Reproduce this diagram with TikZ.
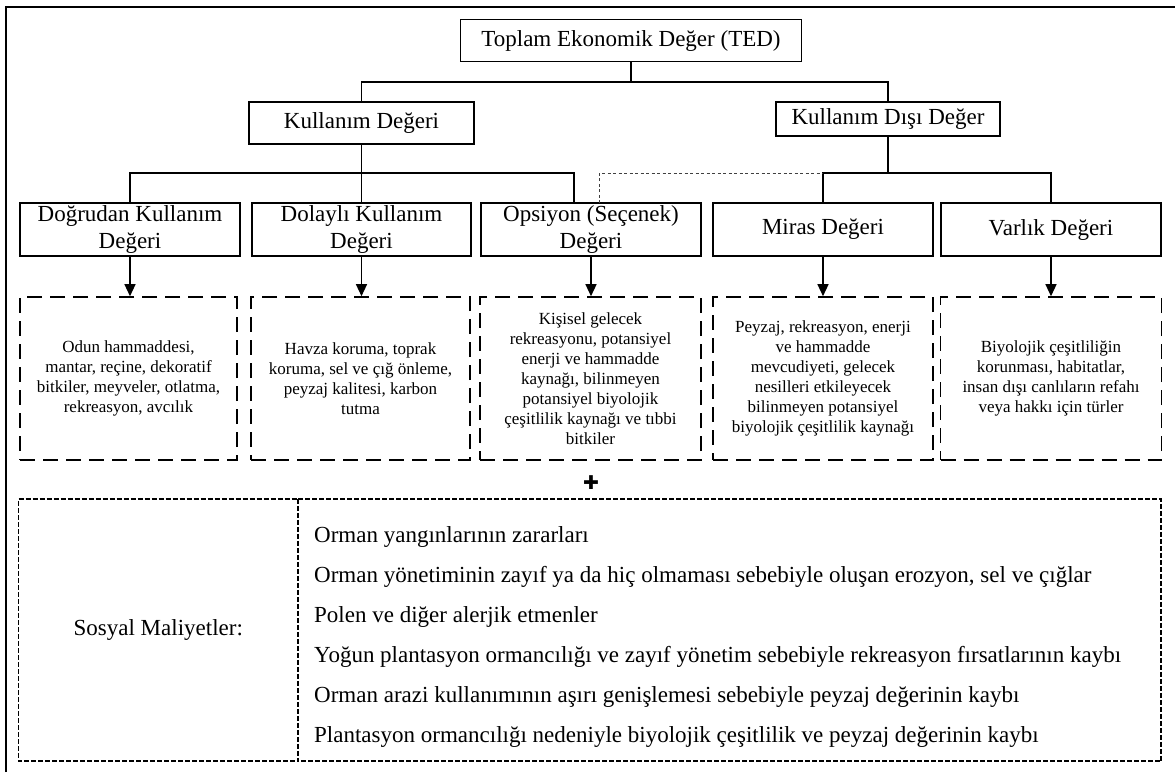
\documentclass[tikz,border=0pt]{standalone}
\usepackage{fontspec}
\setmainfont{Liberation Serif}
\newfontfamily\djv{DejaVu Sans}
\usetikzlibrary{arrows.meta}
\begin{document}
\begin{tikzpicture}[x=1pt,y=-1pt,
  box/.style={draw, line width=1.6pt, inner sep=0pt, align=center, font=\fontsize{23}{27}\selectfont},
  rowbox/.style={box, minimum width=220pt, minimum height=53pt},
  dbox/.style={draw, line width=1.6pt, dash pattern=on 15pt off 8pt, inner sep=0pt, minimum height=163pt, minimum width=219pt, align=center, font=\fontsize{17}{20}\selectfont},
  sdash/.style={line width=1.5pt, dash pattern=on 5pt off 2pt},
  sbox/.style={inner sep=0pt, minimum height=262pt, font=\fontsize{23}{27}\selectfont},
  item/.style={anchor=west, inner sep=0pt, font=\fontsize{23}{27}\selectfont},
  conn/.style={line width=1.3pt},
  dconn/.style={line width=1pt, dash pattern=on 3pt off 2.5pt, black!75},
  arr/.style={line width=1.3pt, -{Triangle[length=12pt,width=11pt]}},
  ]
\useasboundingbox (0,0) rectangle (1175,772);
% frame
\draw[line width=1.1pt] (6,772) -- (6,7) -- (1175,7);
% top levels
\node[box, minimum width=341pt, minimum height=42pt] (ted) at (631,40.5) {Toplam Ekonomik Değer (TED)};
\node[box, minimum width=225pt, minimum height=42pt] (ku) at (361.5,123) {Kullanım Değeri};
\node[box, minimum width=224pt, minimum height=34pt] (kd) at (888,119) {Kullanım Dışı Değer};
% row 3
\node[rowbox] (dk) at (130,229.5) {Doğrudan Kullanım\\Değeri};
\node[rowbox, minimum width=219pt] (dl) at (361.5,229.5) {Dolaylı Kullanım\\Değeri};
\node[rowbox] (op) at (591,229.5) {Opsiyon (Seçenek)\\Değeri};
\node[rowbox] (mi) at (823,229.5) {Miras Değeri};
\node[rowbox] (va) at (1051,229.5) {Varlık Değeri};
% row 4
\node[dbox, minimum width=217pt] (d1) at (128.5,378.5) {Odun hammaddesi,\\mantar, reçine, dekoratif\\bitkiler, meyveler, otlatma,\\rekreasyon, avcılık};
\node[dbox] (d2) at (360.5,378.5) {Havza koruma, toprak\\koruma, sel ve çığ önleme,\\peyzaj kalitesi, karbon\\tutma};
\node[dbox, minimum width=221pt] (d3) at (590.5,378.5) {Kişisel gelecek\\rekreasyonu, potansiyel\\enerji ve hammadde\\kaynağı, bilinmeyen\\potansiyel biyolojik\\çeşitlilik kaynağı ve tıbbi\\bitkiler};
\node[dbox, minimum width=220pt] (d4) at (823,378.5) {Peyzaj, rekreasyon, enerji\\ve hammadde\\mevcudiyeti, gelecek\\nesilleri etkileyecek\\bilinmeyen potansiyel\\biyolojik çeşitlilik kaynağı};
\node[dbox, minimum width=221pt] (d5) at (1051,378.5) {Biyolojik çeşitliliğin\\korunması, habitatlar,\\insan dışı canlıların refahı\\veya hakkı için türler};
% connectors
\coordinate (b1) at (0,82);
\coordinate (b2) at (0,173);
\coordinate (opl) at (574,203);
\coordinate (opr) at (599,203);
\draw[conn] (ted.south) -- (ted.south |- b1);
\draw[conn] (ku.north) -- (ku.north |- b1) -- (kd.north |- b1) -- (kd.north);
\draw[conn] (ku.south) -- (ku.south |- b2);
\draw[conn] (dk.north) -- (dk.north |- b2) -- (opl |- b2) -- (opl);
\draw[conn] (dl.north) -- (dl.north |- b2);
\draw[conn] (kd.south) -- (kd.south |- b2);
\draw[conn] (mi.north) -- (mi.north |- b2) -- (va.north |- b2) -- (va.north);
\draw[dconn] (opr) -- (opr |- b2) -- (mi.north |- b2);
% arrows
\draw[arr] (dk.south) -- (dk.south |- d1.north);
\draw[arr] (dl.south) -- (dl.south |- d2.north);
\draw[arr] (op.south) -- (op.south |- d3.north);
\draw[arr] (mi.south) -- (mi.south |- d4.north);
\draw[arr] (va.south) -- (va.south |- d5.north);
% plus
\node[inner sep=0pt, font=\djv\fontsize{19}{19}\selectfont] (plus) at (591,483) {✚};
% social costs
\node[sbox, minimum width=279.5pt] (sl) at (158.25,630) {Sosyal Maliyetler:};
\node[sbox, minimum width=863pt] (sr) at (729.5,630) {};
\draw[sdash] (sl.north east) rectangle (sl.south west);
\draw[sdash] (sl.north east) -- (sr.north east) -- (sr.south east) -- (sl.south east);
\node[item] (l1) at (314,537) {Orman yangınlarının zararları};
\node[item] (l2) at (314,577) {Orman yönetiminin zayıf ya da hiç olmaması sebebiyle oluşan erozyon, sel ve çığlar};
\node[item] (l3) at (314,617) {Polen ve diğer alerjik etmenler};
\node[item] (l4) at (314,657) {Yoğun plantasyon ormancılığı ve zayıf yönetim sebebiyle rekreasyon fırsatlarının kaybı};
\node[item] (l5) at (314,697) {Orman arazi kullanımının aşırı genişlemesi sebebiyle peyzaj değerinin kaybı};
\node[item] (l6) at (314,737) {Plantasyon ormancılığı nedeniyle biyolojik çeşitlilik ve peyzaj değerinin kaybı};
\end{tikzpicture}
\end{document}
